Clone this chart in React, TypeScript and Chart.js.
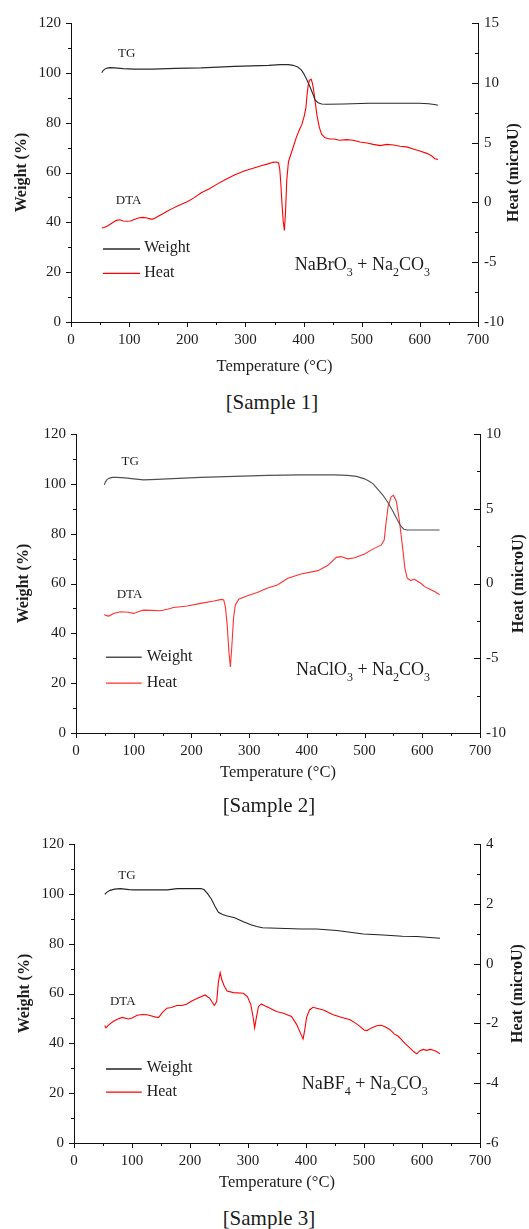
import React, { useEffect, useRef } from "react";
import { Chart, registerables } from "chart.js";

Chart.register(...registerables);

type Pair = [number, number];

// ---------- shared axis values ----------
const tempTicks = { min: 0, max: 700, step: 100, minor: 50 };
const weightTicks = { min: 0, max: 120, step: 20, minor: 10 };

// ---------- Sample 1: NaBrO3 + Na2CO3 (temperature °C, value) ----------
const s1Weight: Pair[] = [
  [53, 100.0], [55, 100.8], [58, 101.5], [62, 101.9], [67, 102.1], [75, 102.0], [90, 101.7],
  [108, 101.5], [140, 101.5], [180, 101.8], [224, 102.0], [281, 102.6], [340, 103.0],
  [360, 103.3], [374, 103.3], [382, 103.0], [390, 102.3], [396, 101.2], [400, 99.8],
  [405, 97.5], [411, 94.4], [416, 91.5], [420, 89.0], [425, 88.0], [431, 87.5], [440, 87.4],
  [470, 87.5], [512, 87.8], [560, 87.8], [599, 87.8], [615, 87.6], [625, 87.3], [631, 87.0],
];
const s1Heat: Pair[] = [
  [53, -2.13], [57, -2.1], [62, -2.0], [70, -1.75], [78, -1.5], [84, -1.45], [90, -1.55],
  [96, -1.58], [102, -1.55], [110, -1.4], [117, -1.28], [124, -1.25], [131, -1.3], [137, -1.4],
  [142, -1.38], [150, -1.15], [158, -0.95], [166, -0.72], [175, -0.5], [183, -0.3], [192, -0.12],
  [200, 0.06], [212, 0.4], [224, 0.8], [238, 1.15], [252, 1.55], [265, 1.9], [281, 2.3],
  [299, 2.65], [316, 2.9], [330, 3.1], [339, 3.22], [347, 3.35], [353, 3.38], [357, 3.3],
  [359, 2.8], [361, 1.5], [363, -0.2], [365, -1.6], [367, -2.35], [369, -0.8], [371, 1.8],
  [374, 3.4], [380, 4.3], [388, 5.5], [393, 6.1], [397, 6.5], [401, 7.2], [404, 7.9],
  [406, 9.0], [408, 9.8], [410, 10.2], [413, 10.3], [415, 10.0], [417, 9.5], [420, 8.4],
  [423, 7.3], [427, 6.3], [431, 5.7], [437, 5.4], [445, 5.3], [452, 5.3], [462, 5.2],
  [474, 5.25], [485, 5.2], [497, 5.05], [509, 4.97], [520, 4.85], [532, 4.75], [543, 4.85],
  [555, 4.8], [566, 4.7], [577, 4.64], [590, 4.45], [600, 4.3], [612, 4.1], [620, 3.9],
  [626, 3.65], [631, 3.6],
];
const s1HeatAxis = { min: -10, max: 15, step: 5, minor: 2.5 };

// ---------- Sample 2: NaClO3 + Na2CO3 ----------
const s2Weight: Pair[] = [
  [49, 99.6], [51, 100.8], [54, 101.8], [58, 102.3], [63, 102.6], [71, 102.6], [85, 102.4],
  [100, 102.0], [117, 101.6], [140, 101.8], [158, 102.0], [216, 102.6], [274, 103.0],
  [332, 103.4], [390, 103.6], [448, 103.6], [470, 103.4], [486, 103.0], [500, 102.0],
  [508, 101.0], [515, 100.0], [523, 97.8], [532, 95.4], [541, 92.3], [550, 88.6], [558, 85.0],
  [563, 83.0], [568, 81.8], [574, 81.5], [600, 81.5], [630, 81.5],
];
const s2Heat: Pair[] = [
  [49, -2.07], [53, -2.15], [57, -2.18], [65, -2.0], [77, -1.89], [90, -1.92], [100, -2.0],
  [110, -1.85], [117, -1.78], [130, -1.8], [146, -1.82], [160, -1.7], [169, -1.6], [193, -1.5],
  [216, -1.33], [239, -1.17], [252, -1.06], [256, -1.1], [259, -1.6], [262, -2.8], [265, -4.6],
  [267.5, -5.58], [270, -4.2], [273, -2.3], [276, -1.45], [282, -1.05], [297, -0.82],
  [314, -0.6], [332, -0.3], [349, -0.1], [367, 0.35], [390, 0.64], [419, 0.86], [436, 1.2],
  [451, 1.75], [459, 1.8], [471, 1.65], [483, 1.72], [500, 1.98], [512, 2.25], [529, 2.58],
  [534, 2.9], [537, 4.0], [541, 5.2], [546, 5.8], [550, 5.9], [555, 5.5], [560, 4.3],
  [565, 2.7], [570, 1.0], [574, 0.35], [580, 0.2], [586, 0.3], [592, 0.15], [598, 0.0],
  [604, -0.21], [614, -0.4], [622, -0.55], [630, -0.75],
];
const s2HeatAxis = { min: -10, max: 10, step: 5, minor: 2.5 };

// ---------- Sample 3: NaBF4 + Na2CO3 ----------
const s3Weight: Pair[] = [
  [53, 99.8], [57, 100.7], [62, 101.4], [70, 101.9], [80, 102.1], [95, 101.7], [103, 101.6],
  [161, 101.6], [178, 102.1], [219, 102.1], [224, 101.7], [230, 100.2], [237, 97.8],
  [243, 95.0], [249, 92.6], [256, 91.7], [263, 91.2], [277, 90.4], [292, 88.8], [305, 87.6],
  [315, 86.9], [325, 86.4], [338, 86.3], [392, 85.9], [418, 85.9], [453, 85.3], [499, 83.9],
  [533, 83.5], [566, 83.0], [591, 82.9], [631, 82.2],
];
const s3Heat: Pair[] = [
  [53, -2.07], [55, -2.15], [60, -2.05], [68, -1.93], [76, -1.85], [83, -1.8], [94, -1.85],
  [100, -1.82], [109, -1.73], [118, -1.7], [126, -1.71], [134, -1.75], [141, -1.79],
  [146, -1.8], [152, -1.65], [160, -1.49], [168, -1.47], [177, -1.4], [186, -1.4],
  [194, -1.36], [203, -1.25], [214, -1.15], [226, -1.05], [234, -1.16], [242, -1.4],
  [246, -1.27], [249, -0.61], [252, -0.3], [255, -0.55], [259, -0.75], [264, -0.92],
  [275, -0.97], [292, -0.99], [299, -1.1], [305, -1.38], [309, -1.82], [311.5, -2.15],
  [314, -1.85], [318, -1.44], [323, -1.35], [328, -1.4], [338, -1.49], [349, -1.6],
  [361, -1.66], [375, -1.77], [384, -2.04], [391, -2.35], [395, -2.52], [398, -2.2],
  [401, -1.8], [406, -1.55], [412, -1.46], [420, -1.5], [430, -1.55], [447, -1.71],
  [462, -1.8], [476, -1.88], [486, -2.0], [493, -2.1], [500, -2.22], [505, -2.24],
  [513, -2.15], [522, -2.08], [530, -2.06], [537, -2.12], [545, -2.21], [552, -2.35],
  [559, -2.43], [565, -2.55], [571, -2.68], [579, -2.82], [586, -2.95], [591, -3.02],
  [596, -2.92], [602, -2.87], [608, -2.9], [614, -2.87], [620, -2.9], [625, -2.94],
  [631, -3.02],
];
const s3HeatAxis = { min: -6, max: 4, step: 2, minor: 1 };

// ---------- texts ----------
const xTitle = "Temperature (°C)";
const leftTitle = "Weight (%)";
const rightTitle = "Heat (microU)";
const legendNames = ["Weight", "Heat"];
const s1Formula: [string, boolean][] = [["NaBrO", false], ["3", true], [" + Na", false], ["2", true], ["CO", false], ["3", true]];
const s2Formula: [string, boolean][] = [["NaClO", false], ["3", true], [" + Na", false], ["2", true], ["CO", false], ["3", true]];
const s3Formula: [string, boolean][] = [["NaBF", false], ["4", true], [" + Na", false], ["2", true], ["CO", false], ["3", true]];

const SERIF = "'Liberation Serif', 'Times New Roman', serif";
const TEXT = "#1c1c1c";
const AXIS = "#111";
const W = 529;

interface Spec {
  top: number;
  height: number;
  plot: { left: number; right: number; top: number; bottom: number };
  weight: Pair[];
  heat: Pair[];
  heatAxis: { min: number; max: number; step: number; minor: number };
  tgColor: string;
  dtaColor: string;
  formula: [string, boolean][];
  tgAt: Pair;
  dtaAt: Pair;
  legend: { x0: number; x1: number; textX: number; wY: number; hY: number };
  formulaAt: Pair;
  leftTitleX: number;
  rightTitleX: number;
  xTitleY: number;
  caption: string;
  captionX: number;
  captionY: number;
}

const specs: Spec[] = [
  {
    top: 0, height: 385,
    plot: { left: 71, right: 478, top: 23, bottom: 322 },
    weight: s1Weight, heat: s1Heat, heatAxis: s1HeatAxis,
    tgColor: "#2a2a2a", dtaColor: "#ff0000", formula: s1Formula,
    tgAt: [81, 106.5], dtaAt: [77, 47.4],
    legend: { x0: 55, x1: 118.7, textX: 126, wY: 29.3, hY: 19.5 },
    formulaAt: [385, 20.9],
    leftTitleX: 22, rightTitleX: 514, xTitleY: 367,
    caption: "[Sample 1]", captionX: 272, captionY: 402,
  },
  {
    top: 415, height: 380,
    plot: { left: 76, right: 480, top: 434, bottom: 733 },
    weight: s2Weight, heat: s2Heat, heatAxis: s2HeatAxis,
    tgColor: "#505050", dtaColor: "#ff3030", formula: s2Formula,
    tgAt: [79, 107.6], dtaAt: [70.5, 54.1],
    legend: { x0: 52, x1: 113.8, textX: 122.5, wY: 30.4, hY: 20.0 },
    formulaAt: [381, 23.3],
    leftTitleX: 24, rightTitleX: 519, xTitleY: 773,
    caption: "[Sample 2]", captionX: 269, captionY: 805,
  },
  {
    top: 825, height: 375,
    plot: { left: 74, right: 480, top: 841, bottom: 1143 },
    weight: s3Weight, heat: s3Heat, heatAxis: s3HeatAxis,
    tgColor: "#222222", dtaColor: "#ff0000", formula: s3Formula,
    tgAt: [76.4, 106.1], dtaAt: [62, 55.2],
    legend: { x0: 55.2, x1: 116.7, textX: 125.3, wY: 29.7, hY: 20.4 },
    formulaAt: [392.6, 21.7],
    leftTitleX: 25, rightTitleX: 518, xTitleY: 1183,
    caption: "[Sample 3]", captionX: 269, captionY: 1218,
  },
];

function Panel({ spec }: { spec: Spec }) {
  const ref = useRef<HTMLCanvasElement | null>(null);

  useEffect(() => {
    const canvas = ref.current;
    if (!canvas) return;
    const s = spec;
    const half = (16 * 1.2) / 2;

    const decor = {
      id: "decor",
      afterDraw(chart: any) {
        const ctx: CanvasRenderingContext2D = chart.ctx;
        const x = chart.scales.x;
        const yl = chart.scales.yW;
        const yr = chart.scales.yH;
        const { left, right, top, bottom } = chart.chartArea;
        ctx.save();
        ctx.strokeStyle = AXIS;
        ctx.lineWidth = 1;
        ctx.beginPath();
        for (let v = tempTicks.min; v <= tempTicks.max; v += tempTicks.minor) {
          const px = Math.round(x.getPixelForValue(v)) + 0.5;
          const len = v % tempTicks.step === 0 ? 5 : 3;
          ctx.moveTo(px, bottom);
          ctx.lineTo(px, bottom + len);
        }
        for (let v = weightTicks.min; v <= weightTicks.max; v += weightTicks.minor) {
          const py = Math.round(yl.getPixelForValue(v)) + 0.5;
          const len = v % weightTicks.step === 0 ? 5 : 3;
          ctx.moveTo(left, py);
          ctx.lineTo(left - len, py);
        }
        const ha = s.heatAxis;
        for (let i = 0; ; i++) {
          const v = ha.min + i * ha.minor;
          if (v > ha.max + 1e-9) break;
          const py = Math.round(yr.getPixelForValue(v)) + 0.5;
          const len = i % 2 === 0 ? 6 : 3;
          ctx.moveTo(right, py);
          ctx.lineTo(right - len, py);
        }
        ctx.stroke();

        // right axis title (reads bottom to top)
        ctx.save();
        ctx.translate(s.rightTitleX, (top + bottom) / 2);
        ctx.rotate(-Math.PI / 2);
        ctx.font = `bold 16px ${SERIF}`;
        ctx.fillStyle = TEXT;
        ctx.textAlign = "center";
        ctx.textBaseline = "middle";
        ctx.fillText(rightTitle, 0, 0);
        ctx.restore();

        // TG / DTA labels
        ctx.fillStyle = TEXT;
        ctx.font = `13px ${SERIF}`;
        ctx.textAlign = "left";
        ctx.textBaseline = "alphabetic";
        ctx.fillText("TG", x.getPixelForValue(s.tgAt[0]), yl.getPixelForValue(s.tgAt[1]));
        ctx.fillText("DTA", x.getPixelForValue(s.dtaAt[0]), yl.getPixelForValue(s.dtaAt[1]));

        // legend
        const lg = s.legend;
        const lx0 = x.getPixelForValue(lg.x0);
        const lx1 = x.getPixelForValue(lg.x1);
        const tx = x.getPixelForValue(lg.textX);
        const rows: [string, string, number][] = [
          [legendNames[0], s.tgColor, yl.getPixelForValue(lg.wY)],
          [legendNames[1], s.dtaColor, yl.getPixelForValue(lg.hY)],
        ];
        ctx.font = `16px ${SERIF}`;
        rows.forEach((row) => {
          const name = row[0];
          const col = row[1];
          const py = row[2];
          ctx.beginPath();
          ctx.strokeStyle = col;
          ctx.lineWidth = 1.3;
          ctx.moveTo(lx0, py);
          ctx.lineTo(lx1, py);
          ctx.stroke();
          ctx.fillStyle = TEXT;
          ctx.fillText(name, tx, py + 3.5);
        });

        // formula with subscripts
        let fx = x.getPixelForValue(s.formulaAt[0]);
        const fy = yl.getPixelForValue(s.formulaAt[1]);
        for (const [txt, sub] of s.formula) {
          ctx.font = sub ? `12px ${SERIF}` : `18px ${SERIF}`;
          ctx.fillText(txt, fx, sub ? fy + 6 : fy);
          fx += ctx.measureText(txt).width;
        }
        ctx.restore();
      },
    };

    const tickFont = { family: SERIF, size: 15 };
    const chart = new Chart(canvas, {
      type: "line",
      data: {
        datasets: [
          {
            label: legendNames[0],
            data: s.weight.map(([t, v]) => ({ x: t, y: v })),
            yAxisID: "yW",
            borderColor: s.tgColor,
            borderWidth: 1.1,
            pointRadius: 0,
            tension: 0,
            fill: false,
          },
          {
            label: legendNames[1],
            data: s.heat.map(([t, v]) => ({ x: t, y: v })),
            yAxisID: "yH",
            borderColor: s.dtaColor,
            borderWidth: 1.1,
            pointRadius: 0,
            tension: 0,
            fill: false,
          },
        ],
      },
      options: {
        responsive: false,
        animation: false,
        devicePixelRatio: 1,
        layout: { padding: { top: s.plot.top - s.top, left: 0, right: 0, bottom: 0 } },
        plugins: { legend: { display: false }, tooltip: { enabled: false } },
        scales: {
          x: {
            type: "linear",
            position: "bottom",
            min: tempTicks.min,
            max: tempTicks.max,
            ticks: { stepSize: tempTicks.step, font: tickFont, color: TEXT, padding: 9, maxRotation: 0, autoSkip: false },
            grid: { display: true, drawOnChartArea: false, drawTicks: false },
            border: { display: true, color: AXIS, width: 1 },
            title: {
              display: true,
              text: xTitle,
              color: TEXT,
              font: { family: SERIF, size: 16.5 },
              padding: { top: 0, bottom: s.height - half - (s.xTitleY - s.top) },
            },
            afterFit: (sc: any) => {
              sc.height = s.height - (s.plot.bottom - s.top);
            },
          },
          yW: {
            type: "linear",
            position: "left",
            min: weightTicks.min,
            max: weightTicks.max,
            ticks: { stepSize: weightTicks.step, font: tickFont, color: TEXT, padding: 10 },
            grid: { display: true, drawOnChartArea: false, drawTicks: false },
            border: { display: true, color: AXIS, width: 1 },
            title: {
              display: true,
              text: leftTitle,
              color: TEXT,
              font: { family: SERIF, size: 16, weight: "bold" },
              padding: { top: s.leftTitleX - half, bottom: 0 },
            },
            afterFit: (sc: any) => {
              sc.width = s.plot.left;
            },
          },
          yH: {
            type: "linear",
            position: "right",
            min: s.heatAxis.min,
            max: s.heatAxis.max,
            ticks: { stepSize: s.heatAxis.step, font: tickFont, color: TEXT, padding: 6 },
            grid: { display: true, drawOnChartArea: false, drawTicks: false },
            border: { display: true, color: AXIS, width: 1 },
            afterFit: (sc: any) => {
              sc.width = W - s.plot.right;
            },
          },
        },
      },
      plugins: [decor],
    } as any);

    return () => chart.destroy();
  }, [spec]);

  return (
    <>
      <canvas
        ref={ref}
        width={W}
        height={spec.height}
        style={{ position: "absolute", left: 0, top: spec.top, width: W, height: spec.height }}
      />
      <div
        style={{
          position: "absolute",
          left: spec.captionX - 100,
          top: spec.captionY - 13,
          width: 200,
          height: 26,
          lineHeight: "26px",
          textAlign: "center",
          fontFamily: SERIF,
          fontSize: 21,
          color: TEXT,
        }}
      >
        {spec.caption}
      </div>
    </>
  );
}

export default function App() {
  return (
    <div style={{ position: "absolute", left: 0, top: 0, width: W, height: 1229, background: "#fff", overflow: "hidden" }}>
      {specs.map((sp, i) => (
        <Panel key={i} spec={sp} />
      ))}
    </div>
  );
}
